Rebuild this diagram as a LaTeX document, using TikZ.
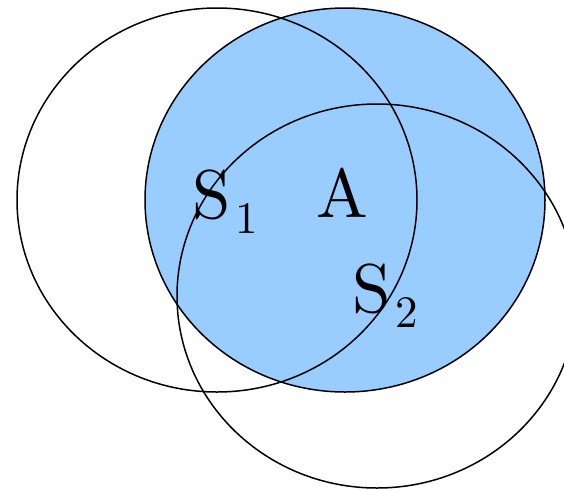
\documentclass[tikz,border=0pt]{standalone}
\usepackage{fontspec}
\setmainfont{lmroman10-regular.otf}
\definecolor{xanhnhat}{RGB}{153,204,255}
\newcommand{\chiso}[1]{\kern5pt\lower15pt\hbox{\fontsize{45}{45}\selectfont #1}}
\begin{document}
\begin{tikzpicture}[x=1pt, y=-1pt, line join=round, line cap=round, font=\fontsize{69}{80}\selectfont]
				\useasboundingbox (0,0) rectangle (564,488);
				\clip (0,0) rectangle (564,488);
				\coordinate (T1) at (217,200);
				\coordinate (T) at (345,200);
				\coordinate (T2) at (377,296);
				
				\fill[xanhnhat] (T) ellipse [x radius=200, y radius=192];
				\foreach \tam in {T1, T, T2}
				\draw[line width=1.5pt] (\tam) ellipse [x radius=200, y radius=192];
				
				\node[anchor=base west, inner sep=0pt] (S1) at (192,218) {S\chiso{1}};
				\node[anchor=base, inner sep=0pt] (A) at (342.5,217) {A};
				\node[anchor=base west, inner sep=0pt] (S2) at (352,312) {S\chiso{2}};
			\end{tikzpicture}
\end{document}
